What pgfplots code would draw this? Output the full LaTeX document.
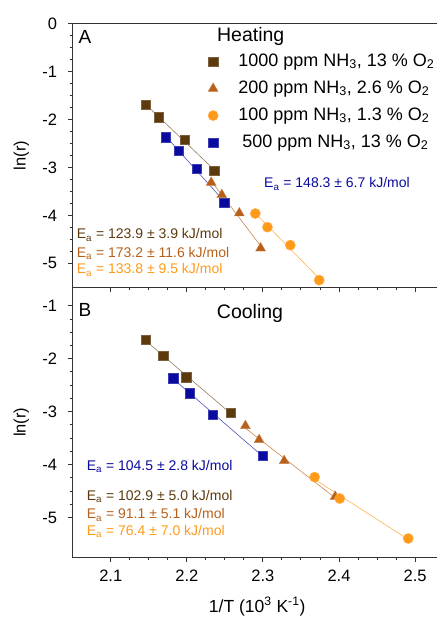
\documentclass[border=0pt]{standalone}
\usepackage{fontspec}
\setmainfont{Liberation Sans}
\usepackage{pgfplots}
\usepackage{pgfplotstable}
\pgfplotsset{compat=1.18}

\definecolor{cBrown}{HTML}{5C3A0E}
\definecolor{cRust}{HTML}{B8601A}
\definecolor{cOrange}{HTML}{FF9A1A}
\definecolor{cBlue}{HTML}{0A0AA0}

% heating (panel A)
\pgfplotstableread{
x y
2.146 -1.691
2.163 -1.948
2.197 -2.422
2.236 -3.063
}\hThousand
\pgfplotstableread{
x y
2.232 -3.313
2.246 -3.570
2.269 -3.952
2.297 -4.683
}\hTwoHundred
\pgfplotstableread{
x y
2.290 -3.960
2.306 -4.245
2.336 -4.620
2.374 -5.351
}\hHundred
\pgfplotstableread{
x y
2.172 -2.366
2.189 -2.645
2.213 -3.021
2.249 -3.731
}\hFiveHundred

% cooling (panel B)
\pgfplotstableread{
x y
2.146 -1.643
2.169 -1.939
2.199 -2.348
2.258 -3.023
}\cThousand
\pgfplotstableread{
x y
2.277 -3.268
2.295 -3.533
2.328 -3.930
2.395 -4.605
}\cTwoHundred
\pgfplotstableread{
x y
2.368 -4.238
2.401 -4.643
2.491 -5.399
}\cHundred
\pgfplotstableread{
x y
2.182 -2.367
2.204 -2.650
2.234 -3.055
2.300 -3.836
}\cFiveHundred

\pgfplotsset{
  panel/.style={
    scale only axis, width=380.4pt,
    xmin=2.05, xmax=2.55,
    xtick={2.1,2.2,2.3,2.4,2.5},
    minor x tick num=3, minor y tick num=3,
    tick align=outside, tick pos=left,
    major tick length=5pt, minor tick length=3pt,
    axis line style={line width=1.1pt, black!80},
    every tick/.style={black!80, line width=0.9pt},
    tick label style={font=\fontsize{16.5}{19}\selectfont},
    yticklabel style={xshift=-7pt},
    xticklabel style={yshift=-4pt},
    /pgf/number format/assume math mode=true,
    ylabel={ln(r)},
    ylabel style={at={(axis description cs:-0.135,0.5)}, anchor=center,
      font=\fontsize{16.5}{19}\selectfont},
    clip=false,
  },
  fitline/.style={no marks, line width=0.6pt, forget plot},
  legmark/.style={legend image code/.code={%
    \path (0pt,0pt) (33pt,0pt);
    \draw[mark repeat=2, mark phase=2, ##1] plot coordinates {(0pt,0pt)(10pt,0pt)(20pt,0pt)};}},
  sq/.style={only marks, mark=square*, mark size=4.7pt, legmark},
  tri/.style={only marks, mark=triangle*, mark size=5.7pt, legmark},
  circ/.style={only marks, mark=*, mark size=5.1pt, legmark},
}

\begin{document}
\begin{tikzpicture}
\useasboundingbox (0pt,0pt) rectangle (436pt,617pt);

\begin{axis}[panel,
  at={(72.7pt,329.7pt)}, anchor=south west,
  height=263.45pt,
  ymin=-5.5, ymax=0, ytick={0,-1,-2,-3,-4,-5},
  xticklabels={},
  legend style={draw=none, fill=none, at={(0.334,0.905)}, anchor=north west,
    font=\fontsize{18}{22}\selectfont, row sep=6pt,
    nodes={inner sep=2pt, text height=13pt, text depth=4pt}},
  legend cell align=left,
]
\addplot[fitline, cBrown!65] table[x=x, y={create col/linear regression={y=y}}] \hThousand;
\addplot[fitline, cRust!75] table[x=x, y={create col/linear regression={y=y}}] \hTwoHundred;
\addplot[fitline, cOrange!75] table[x=x, y={create col/linear regression={y=y}}] \hHundred;
\addplot[fitline, cBlue!70] table[x=x, y={create col/linear regression={y=y}}] \hFiveHundred;

\addplot[sq, draw=cBrown!80, fill=cBrown] table \hThousand;
\addlegendentry{1000 ppm NH\textsubscript{3}, 13 \% O\textsubscript{2}}
\addplot[tri, draw=cRust!80, fill=cRust] table \hTwoHundred;
\addlegendentry{200 ppm NH\textsubscript{3}, 2.6 \% O\textsubscript{2}}
\addplot[circ, draw=cOrange!80, fill=cOrange] table \hHundred;
\addlegendentry{100 ppm NH\textsubscript{3}, 1.3 \% O\textsubscript{2}}
\addplot[sq, draw=cBlue!80, fill=cBlue] table \hFiveHundred;
\addlegendentry{\hspace{4pt}500 ppm NH\textsubscript{3}, 13 \% O\textsubscript{2}}
\end{axis}

\begin{axis}[panel,
  at={(72.7pt,59.9pt)}, anchor=south west,
  height=269.8pt,
  ymin=-5.75, ymax=-0.65, ytick={-1,-2,-3,-4,-5},
  xlabel={1/T (10\textsuperscript{3} K\textsuperscript{-1})},
  xlabel style={at={(ticklabel cs:0.485)}, yshift=-9pt, font=\fontsize{17.5}{20}\selectfont},
]
\addplot[fitline, cBrown!65] table[x=x, y={create col/linear regression={y=y}}] \cThousand;
\addplot[fitline, cRust!75] table[x=x, y={create col/linear regression={y=y}}] \cTwoHundred;
\addplot[fitline, cOrange!75] table[x=x, y={create col/linear regression={y=y}}] \cHundred;
\addplot[fitline, cBlue!70] table[x=x, y={create col/linear regression={y=y}}] \cFiveHundred;

\addplot[sq, draw=cBrown!80, fill=cBrown] table \cThousand;
\addplot[tri, draw=cRust!80, fill=cRust] table \cTwoHundred;
\addplot[circ, draw=cOrange!80, fill=cOrange] table \cHundred;
\addplot[sq, draw=cBlue!80, fill=cBlue] table \cFiveHundred;
\end{axis}

% panel letters and titles
\node[font=\fontsize{19}{22}\selectfont] at (85pt,580.3pt) {A};
\node[font=\fontsize{19.5}{23}\selectfont] at (250.7pt,581pt) {Heating};
\node[font=\fontsize{19}{22}\selectfont] at (85pt,307pt) {B};
\node[font=\fontsize{19.5}{23}\selectfont] at (250pt,303.7pt) {Cooling};

% activation energies
\begin{scope}[every node/.style={anchor=west, inner sep=0pt, font=\fontsize{14}{16}\selectfont}]
\node[text=cBlue] at (264pt,433pt) {E\textsubscript{a} = 148.3 ± 6.7 kJ/mol};
\node[text=cBrown] at (76.7pt,382pt) {E\textsubscript{a} = 123.9 ± 3.9 kJ/mol};
\node[text=cRust] at (76.7pt,363.7pt) {E\textsubscript{a} = 173.2 ± 11.6 kJ/mol};
\node[text=cOrange] at (76.7pt,347pt) {E\textsubscript{a} = 133.8 ± 9.5 kJ/mol};
\node[text=cBlue] at (86.7pt,150.3pt) {E\textsubscript{a} = 104.5 ± 2.8 kJ/mol};
\node[text=cBrown] at (86.7pt,120.3pt) {E\textsubscript{a} = 102.9 ± 5.0 kJ/mol};
\node[text=cRust] at (86.7pt,102pt) {E\textsubscript{a} = 91.1 ± 5.1 kJ/mol};
\node[text=cOrange] at (86.7pt,85.3pt) {E\textsubscript{a} = 76.4 ± 7.0 kJ/mol};
\end{scope}
\end{tikzpicture}
\end{document}
